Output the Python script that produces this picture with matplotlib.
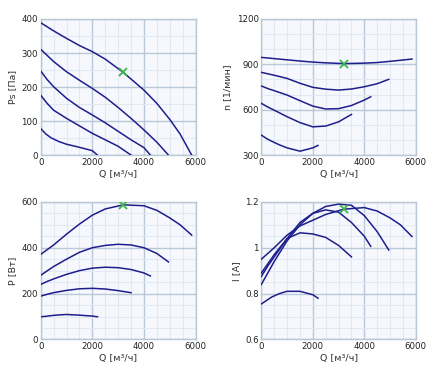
import numpy as np
import matplotlib
matplotlib.use("Agg")
import matplotlib.pyplot as plt
from matplotlib.ticker import MultipleLocator, FormatStrFormatter

# flow values per speed curve (largest speed first)
q1 = [0, 500, 1000, 1500, 2000, 2500, 3200, 4000, 4500, 5000, 5400, 5850]
q2 = [0, 500, 1000, 1500, 2000, 2500, 3000, 3500, 4000, 4500, 4950]
q3 = [0, 250, 500, 1000, 1500, 2000, 2500, 3000, 3500, 4000, 4250]
q4 = [0, 250, 500, 1000, 1500, 2000, 2500, 3000, 3500]
q5 = [0, 200, 400, 700, 1000, 1500, 2000, 2200]

# static pressure, Pa
ps1 = [389, 365, 343, 322, 304, 282, 243, 191, 152, 105, 62, 0]
ps2 = [311, 275, 245, 220, 196, 170, 140, 108, 74, 38, 0]
ps3 = [247, 222, 201, 167, 140, 118, 95, 70, 45, 22, 0]
ps4 = [176, 152, 132, 108, 86, 64, 45, 26, 0]
ps5 = [78, 62, 51, 40, 32, 23, 13, 0]

# speed, 1/min
n1 = [946, 938, 930, 922, 915, 910, 905, 908, 912, 920, 927, 935]
n2 = [847, 828, 807, 775, 748, 736, 730, 737, 752, 772, 801]
n3 = [757, 740, 726, 697, 660, 624, 605, 607, 628, 664, 686]
n4 = [642, 618, 597, 554, 515, 487, 492, 520, 569]
n5 = [432, 410, 392, 368, 348, 326, 348, 364]

# power, W
p1 = [371, 412, 459, 503, 542, 569, 587, 583, 563, 530, 500, 455]
p2 = [280, 318, 350, 380, 400, 410, 415, 412, 400, 375, 338]
p3 = [240, 253, 264, 284, 300, 311, 315, 313, 305, 290, 277]
p4 = [189, 197, 204, 214, 221, 223, 220, 213, 204]
p5 = [99, 101, 104, 107, 109, 106, 102, 99]

# current, A
i1 = [0.95, 1.0, 1.055, 1.095, 1.12, 1.145, 1.168, 1.175, 1.16, 1.13, 1.10, 1.049]
i2 = [0.84, 0.94, 1.03, 1.10, 1.15, 1.18, 1.19, 1.185, 1.14, 1.07, 0.99]
i3 = [0.875, 0.92, 0.96, 1.04, 1.11, 1.15, 1.165, 1.155, 1.11, 1.05, 1.006]
i4 = [0.89, 0.93, 0.97, 1.04, 1.065, 1.06, 1.045, 1.01, 0.96]
i5 = [0.755, 0.77, 0.785, 0.80, 0.81, 0.81, 0.795, 0.78]

# working point
q_wp = 3200
ps_wp, n_wp, p_wp, i_wp = 243, 905, 587, 1.168

qs = [q1, q2, q3, q4, q5]

LINE = "#1e1e8c"
MAJ = "#b9c7d6"
MIN = "#e3e9f2"
BG = "#f6f8fd"

fig = plt.figure(figsize=(4.4, 3.72), dpi=100)

panels = [
    ([0.0925, 0.583, 0.352, 0.366], [ps1, ps2, ps3, ps4, ps5], ps_wp,
     "Ps [Па]", (0, 400), 100, 50, "%d"),
    ([0.594, 0.583, 0.351, 0.366], [n1, n2, n3, n4, n5], n_wp,
     "n [1/мин]", (300, 1200), 300, 100, "%d"),
    ([0.0925, 0.0874, 0.352, 0.37], [p1, p2, p3, p4, p5], p_wp,
     "P [Вт]", (0, 600), 200, 50, "%d"),
    ([0.594, 0.0874, 0.351, 0.37], [i1, i2, i3, i4, i5], i_wp,
     "I [A]", (0.6, 1.2), 0.2, 0.05, "%g"),
]

for rect, ys, y_wp, ylabel, ylim, ymaj, ymin, fmt in panels:
    ax = fig.add_axes(rect)
    ax.set_facecolor(BG)
    for q, y in zip(qs, ys):
        ax.plot(q, y, color=LINE, lw=1.1, zorder=3)
    ax.plot(q_wp, y_wp, marker="x", color="#3cb44b", ms=6, mew=1.3, zorder=4)
    ax.set_xlim(0, 6000)
    ax.set_ylim(*ylim)
    ax.xaxis.set_major_locator(MultipleLocator(2000))
    ax.xaxis.set_minor_locator(MultipleLocator(500))
    ax.yaxis.set_major_locator(MultipleLocator(ymaj))
    ax.yaxis.set_minor_locator(MultipleLocator(ymin))
    ax.yaxis.set_major_formatter(FormatStrFormatter(fmt))
    ax.grid(which="minor", color=MIN, lw=0.8, zorder=0)
    ax.grid(which="major", color=MAJ, lw=1.0, zorder=1)
    ax.set_axisbelow(True)
    ax.tick_params(which="both", length=0, labelsize=6.2, pad=2, colors="#222222")
    for s in ax.spines.values():
        s.set_color(MAJ)
        s.set_linewidth(1.0)
    ax.set_xlabel("Q [м³/ч]", fontsize=6.8, color="#333333", labelpad=2)
    ax.set_ylabel(ylabel, fontsize=6.8, color="#333333", labelpad=3)

fig.savefig("out.png", dpi=100, facecolor="white")
